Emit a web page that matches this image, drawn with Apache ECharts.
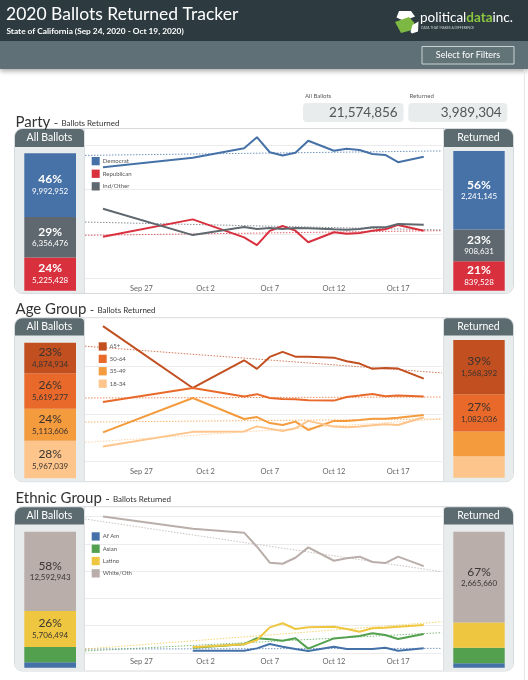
<!DOCTYPE html>
<html><head><meta charset="utf-8">
<script src="https://cdn.jsdelivr.net/npm/echarts@6/dist/echarts.min.js"></script>
<style>html,body{margin:0;padding:0;background:#fff;overflow:hidden}#c{width:528px;height:680px;}</style>
</head><body><div id="c"></div>
<script>
// ---------- DATA ----------
const dates = ['2020-09-24','2020-10-01','2020-10-05','2020-10-06','2020-10-07','2020-10-08','2020-10-09','2020-10-10','2020-10-12','2020-10-13','2020-10-14','2020-10-15','2020-10-16','2020-10-17','2020-10-19'];
const tickDates = ['2020-09-27','2020-10-02','2020-10-07','2020-10-12','2020-10-17'];
const tickLabels = ['Sep 27','Oct 2','Oct 7','Oct 12','Oct 17'];

const totalAll = 21574856;
const totalReturned = 3989304;

// Party (% of ballots returned per day)
const partyNames = ['Democrat','Republican','Ind/Other'];
const partyDem = [50.1,54.4,58.7,63.7,56.9,55.4,56.7,62.1,57.6,58.5,57.9,56.1,55.7,52.4,54.9];
const partyRep = [18.8,26.6,18.5,15.0,21.4,23.6,21.5,16.3,20.8,20.1,20.5,21.5,22.1,24.1,21.5];
const partyInd = [31.4,19.5,23.2,22.3,22.7,22.3,22.7,22.6,22.1,21.9,22.3,23.0,23.0,24.5,24.2];
const partyTrendStart = [55.5,19.4,25.4];
const partyTrendEnd = [57.5,21.5,21.8];
const partyAll = [9992952,5225428,6356476];
const partyReturned = [2241145,839528,908631];

// Age group
const ageNames = ['65+','50-64','35-49','18-34'];
const age65 = [56.8,30.9,42.5,38.9,43.9,46.0,44.0,44.0,43.6,42.1,41.1,38.9,39.3,39.0,34.8];
const age50 = [25.0,30.9,27.3,28.3,26.7,26.3,26.2,25.7,25.6,27.1,27.7,28.4,27.4,27.7,27.3];
const age35 = [12.3,26.7,17.9,18.7,16.2,15.4,16.8,13.3,17.1,17.1,17.5,18.0,18.0,18.4,19.6];
const age18 = [6.4,12.5,12.7,14.8,13.8,12.9,14.0,17.1,14.7,14.4,14.7,15.3,15.7,15.4,18.6];
const ageTrendStart = [48.4,26.7,16.6,8.1];
const ageTrendEnd = [37.2,27.1,17.9,17.9];
const ageAll = [4874934,5619277,5113606,5967039];
const ageReturned = [1568392,1082036,718900,619976];

// Ethnic group
const ethNames = ['Af Am','Asian','Latino','White/Oth'];
const ethAfAm = [null,1.7,1.7,3.4,6.6,4.6,2.9,1.5,4.6,2.9,2.9,2.9,3.9,1.7,3.4];
const ethAsian = [null,3.9,6.4,10.8,10.0,9.0,10.8,3.2,10.7,11.5,12.5,14.4,13.2,10.3,13.9];
const ethLatino = [null,4.2,6.4,9.5,18.8,21.8,17.6,18.8,19.3,17.6,15.6,18.1,18.5,19.3,20.5];
const ethWhite = [100,91.0,88.2,77.9,66.2,65.4,69.8,77.4,67.6,69.4,70.6,66.7,65.9,70.6,63.7];
const ethTrendStart = [2.9,1.5,2.9,98.2];
const ethTrendEnd = [3.4,14.9,22.9,59.6];
const ethAll = [870419,2405000,5706494,12592943];
const ethReturned = [128144,455000,740500,2665660];

// ---------- STYLE / LAYOUT ----------
const FONT = 'Lato, "Noto Sans", sans-serif';
const DAY = 86400000;
const t0 = Date.parse(dates[0]);
const dayOf = d => Math.round((Date.parse(d) - t0) / DAY);
const tickVals = tickDates.map(dayOf);
const X_MIN = -1.4, X_MAX = 26.4;

const sections = [
  { title:'Party', names:partyNames, series:[partyDem,partyRep,partyInd], tStart:partyTrendStart, tEnd:partyTrendEnd,
    all:partyAll, ret:partyReturned, topToBottom:[0,2,1], labelColor:'#ffffff', labelWeight:'bold',
    colors:['#4672a8','#d9303e','#5e686e'],
    g:{ titleBase:126, pTop:128.5, pBot:293.5, head:18, lineTop:131, lineH:147.3, yMax:66.5, lblMargin:6.5,
        barL:[153.3,137.4], barR:[151,139.7], legL:91.7, legT:157, legGap:4.3 } },
  { title:'Age Group', names:ageNames, series:[age65,age50,age35,age18], tStart:ageTrendStart, tEnd:ageTrendEnd,
    all:ageAll, ret:ageReturned, topToBottom:[0,1,2,3], labelColor:'#3a3330', labelWeight:'normal',
    colors:['#c14f1f','#e8692a','#f49b3d','#fdc58b'],
    g:{ titleBase:313, pTop:317.7, pBot:481.7, head:17.3, lineTop:318.5, lineH:143.2, yMax:60, lblMargin:5.5,
        barL:[342.7,135.6], barR:[340,137.7], legL:98.7, legT:342.3, legGap:4.1 } },
  { title:'Ethnic Group', names:ethNames, series:[ethAfAm,ethAsian,ethLatino,ethWhite], tStart:ethTrendStart, tEnd:ethTrendEnd,
    all:ethAll, ret:ethReturned, topToBottom:[3,2,1,0], labelColor:'#3a3634', labelWeight:'normal',
    colors:['#4571a9','#53a04e','#efc63f','#b9aea9'],
    g:{ titleBase:502, pTop:506.7, pBot:671, head:17.3, lineTop:507, lineH:146, yMax:107, lblMargin:4.5,
        barL:[531.7,136], barR:[531.7,136], legL:91.7, legT:532.3, legGap:4 } }
];

const grids = [], xAxes = [], yAxes = [], series = [], legends = [], graphics = [];

function txt(x, y, text, size, fill, align, valign, weight, z) {
  return { type:'text', z: z || 50, style:{ x, y, text, fill, font:(weight||'normal')+' '+size+'px '+FONT,
    align:align||'left', verticalAlign:valign||'middle' } };
}

// header
graphics.push({ type:'rect', z:-5, shape:{x:0,y:0,width:528,height:41}, style:{fill:'#2d3b41'} });
graphics.push({ type:'rect', z:-6, shape:{x:0,y:41,width:528,height:28},
  style:{fill:'#5f7177', shadowBlur:5, shadowColor:'rgba(0,0,0,0.35)', shadowOffsetY:2} });
graphics.push(txt(6, 14.5, '2020 Ballots Returned Tracker', 17.5, '#ffffff'));
graphics.push(txt(6.5, 31, 'State of California (Sep 24, 2020 - Oct 19, 2020)', 8.3, '#ffffff', 'left', 'middle', 'bold'));
// logo
graphics.push({ type:'polygon', z:10, shape:{points:[[399,11],[411,11],[415,16.5],[404,21],[396.5,17.5]]}, style:{fill:'#ffffff'} });
graphics.push({ type:'polygon', z:10, shape:{points:[[395,22],[409,17],[414.5,23],[412,30],[401,33]]}, style:{fill:'#7db843'} });
graphics.push({ type:'polygon', z:10, shape:{points:[[412.5,25],[418.5,21.5],[418,31.5],[412,33.5],[410.5,32]]}, style:{fill:'#ffffff'} });
graphics.push({ type:'text', z:50, style:{ x:420, y:17.5, align:'left', verticalAlign:'middle',
  text:'{w|political}{d|data}{w|inc.}',
  rich:{ w:{fill:'#ffffff', color:'#ffffff', fontSize:13.5, fontFamily:FONT},
         d:{fill:'#8cc63f', color:'#8cc63f', fontSize:13.5, fontFamily:FONT, fontWeight:'bold'} } } });
graphics.push(txt(421, 28.3, 'DATA THAT MAKES A DIFFERENCE', 3.3, '#c9d0d2'));
// filter button
graphics.push({ type:'rect', z:10, shape:{x:422,y:46.5,width:92,height:17.5}, style:{fill:'#637479', stroke:'#c9d2d4', lineWidth:1} });
graphics.push(txt(468, 55.5, 'Select for Filters', 9, '#ffffff', 'center', 'middle'));
// right page edge
graphics.push({ type:'line', z:-5, shape:{x1:524.5,y1:69,x2:524.5,y2:680}, style:{stroke:'#e4e6e7', lineWidth:1} });

// totals
graphics.push(txt(305, 96.5, 'All Ballots', 6, '#5a5a5a'));
graphics.push({ type:'rect', z:-4, shape:{x:303,y:103,width:100.5,height:19,r:4}, style:{fill:'#e9eced'} });
graphics.push(txt(397.7, 113, totalAll.toLocaleString('en-US'), 13.5, '#555555', 'right', 'middle'));
graphics.push(txt(409.5, 96.5, 'Returned', 6, '#5a5a5a'));
graphics.push({ type:'rect', z:-4, shape:{x:408.3,y:103,width:99,height:19,r:4}, style:{fill:'#e9eced'} });
graphics.push(txt(501.7, 113, totalReturned.toLocaleString('en-US'), 13.5, '#555555', 'right', 'middle'));

sections.forEach((sec, si) => {
  const g = sec.g;
  // title
  graphics.push({ type:'text', z:50, style:{ x:15.5, y:g.titleBase + 3.2, align:'left', verticalAlign:'bottom',
    text:'{a|' + sec.title + '} {b|-} {c|Ballots Returned}',
    rich:{ a:{fontSize:15, fontFamily:FONT, fill:'#333', color:'#333', verticalAlign:'bottom'},
           b:{fontSize:12, fontFamily:FONT, fill:'#333', color:'#333', verticalAlign:'bottom'},
           c:{fontSize:8, fontFamily:FONT, fill:'#333', color:'#333', verticalAlign:'bottom', padding:[0,0,1.5,0]} } } });
  const h = g.pBot - g.pTop;
  graphics.push({ type:'rect', z:-4, shape:{x:14.5,y:g.pTop,width:499,height:h,r:8}, style:{fill:'#ffffff', stroke:'#d6dadc', lineWidth:1} });
  graphics.push({ type:'rect', z:-3, shape:{x:15,y:g.pTop+0.5,width:69,height:h-1,r:[7.5,0,0,7.5]}, style:{fill:'#e9eced'} });
  graphics.push({ type:'rect', z:-3, shape:{x:444,y:g.pTop+0.5,width:69,height:h-1,r:[0,7.5,7.5,0]}, style:{fill:'#e9eced'} });
  graphics.push({ type:'rect', z:-2, shape:{x:15,y:g.pTop+0.5,width:69,height:g.head,r:[7.5,4,0,0]}, style:{fill:'#5c6b70'} });
  graphics.push({ type:'rect', z:-2, shape:{x:444,y:g.pTop+0.5,width:69,height:g.head,r:[3,7.5,0,0]}, style:{fill:'#5c6b70'} });
  graphics.push({ type:'line', z:-2, shape:{x1:84.5,y1:g.pTop+0.5,x2:84.5,y2:g.pBot-0.5}, style:{stroke:'#dcdfe1', lineWidth:1} });
  graphics.push({ type:'line', z:-2, shape:{x1:443.5,y1:g.pTop+0.5,x2:443.5,y2:g.pBot-0.5}, style:{stroke:'#dcdfe1', lineWidth:1} });
  graphics.push(txt(49.5, g.pTop + 0.5 + g.head/2, 'All Ballots', 10.5, '#ffffff', 'center', 'middle'));
  graphics.push(txt(478.5, g.pTop + 0.5 + g.head/2, 'Returned', 10.5, '#ffffff', 'center', 'middle'));

  // line grid
  const li = grids.length;
  grids.push({ left:85, top:g.lineTop, width:356.7, height:g.lineH });
  xAxes.push({ type:'value', gridIndex:li, min:X_MIN, max:X_MAX, axisLine:{show:false}, axisTick:{show:false}, splitLine:{show:false},
    axisLabel:{ customValues:tickVals, margin:g.lblMargin, color:'#666', fontSize:7.5, fontFamily:FONT,
      formatter: v => { const k = tickVals.indexOf(Math.round(v)); return k >= 0 ? tickLabels[k] : ''; } } });
  yAxes.push({ type:'value', gridIndex:li, min:0, max:g.yMax, interval:20, axisLabel:{show:false}, axisLine:{show:false}, axisTick:{show:false},
    splitLine:{show:true, showMaxLine:false, lineStyle:{color:'#ececec', width:1}} });
  sec.names.forEach((n, k) => {
    series.push({ type:'line', name:n, xAxisIndex:li, yAxisIndex:li, symbol:'none', z:4, silent:true,
      lineStyle:{color:sec.colors[k], width:2}, itemStyle:{color:sec.colors[k]},
      data: dates.map((d, i) => [dayOf(d), sec.series[k][i]]) });
    series.push({ type:'line', name:n + ' trend', xAxisIndex:li, yAxisIndex:li, symbol:'none', z:3, silent:true,
      lineStyle:{color:sec.colors[k], width:1, type:[1.5,1.5], opacity:0.75},
      data:[[X_MIN, sec.tStart[k]], [X_MAX, sec.tEnd[k]]] });
  });
  legends.push({ data:sec.names.slice(), left:g.legL, top:g.legT, orient:'vertical', icon:'rect', itemWidth:8, itemHeight:8.3,
    itemGap:g.legGap, padding:0, selectedMode:false, textStyle:{fontSize:6, color:'#555', fontFamily:FONT, padding:[0,0,0,-2]} });

  // bars
  [['all', 24.3, 51.7, g.barL], ['ret', 453.3, 51.4, g.barR]].forEach(([which, left, width, tb]) => {
    const gi = grids.length;
    const counts = which === 'all' ? sec.all : sec.ret;
    const total = counts.reduce((a, b) => a + b, 0);
    grids.push({ left, top:tb[0], width, height:tb[1] });
    xAxes.push({ type:'category', gridIndex:gi, data:['x'], show:false });
    yAxes.push({ type:'value', gridIndex:gi, min:0, max:total, show:false, splitLine:{show:false} });
    sec.topToBottom.slice().reverse().forEach(k => {
      series.push({ type:'bar', name:sec.names[k] + ' ' + which, xAxisIndex:gi, yAxisIndex:gi, stack:'s' + gi,
        barWidth:'100%', silent:true, data:[counts[k]], itemStyle:{color:sec.colors[k]},
        label:{ show:true, position:'inside',
          formatter: p => { const s = p.value / total; if (s < 0.2) return ''; return '{p|' + Math.round(s * 100) + '%}\n{c|' + p.value.toLocaleString('en-US') + '}'; },
          rich:{ p:{fontSize:12, color:sec.labelColor, fontFamily:FONT, lineHeight:13, fontWeight:sec.labelWeight},
                 c:{fontSize:8, color:sec.labelColor, fontFamily:FONT, lineHeight:11} } } });
    });
  });
});

const chart = echarts.init(document.getElementById('c'), null, { renderer:'canvas' });
chart.setOption({
  animation:false, backgroundColor:'#ffffff',
  grid:grids, xAxis:xAxes, yAxis:yAxes, series, legend:legends,
  graphic:{ elements:graphics }
});
</script></body></html>
